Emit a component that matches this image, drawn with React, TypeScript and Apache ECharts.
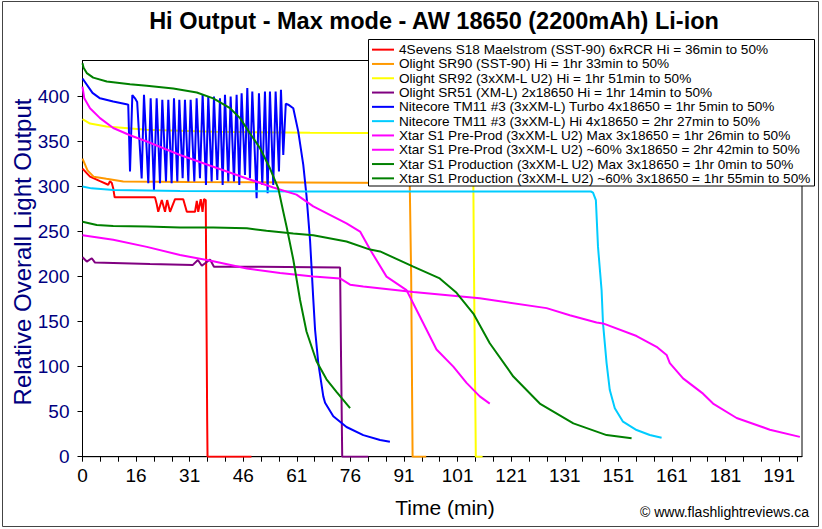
import React, { useEffect, useRef } from 'react';
import * as echarts from 'echarts';

// Tick labels printed under the x axis (one every 15 axis units)
const xTickLabels = ['0', '16', '31', '46', '61', '76', '91', '101', '121', '131', '151', '161', '181', '191'];

const seriesNames = [
  '4Sevens S18 Maelstrom (SST-90) 6xRCR Hi = 36min to 50%',
  'Olight SR90 (SST-90) Hi = 1hr 33min to 50%',
  'Olight SR92 (3xXM-L U2) Hi = 1hr 51min to 50%',
  'Olight SR51 (XM-L) 2x18650 Hi = 1hr 14min to 50%',
  'Nitecore TM11 #3 (3xXM-L) Turbo 4x18650 = 1hr 5min to 50%',
  'Nitecore TM11 #3 (3xXM-L) Hi 4x18650 = 2hr 27min to 50%',
  'Xtar S1 Pre-Prod (3xXM-L U2) Max 3x18650 = 1hr 26min to 50%',
  'Xtar S1 Pre-Prod (3xXM-L U2) ~60% 3x18650 = 2hr 42min to 50%',
  'Xtar S1 Production (3xXM-L U2) Max 3x18650 = 1hr 0min to 50%',
  'Xtar S1 Production (3xXM-L U2) ~60% 3x18650 = 1hr 55min to 50%',
];

const seriesColors = ['#FF0000', '#FF9900', '#FFFF00', '#800080', '#0000FF', '#00CCFF', '#FF00FF', '#FF00FF', '#008000', '#008000'];

const maelstrom = [[0, 320], [2.1, 311], [4.9, 306], [7.2, 302], [7.7, 306], [8.2, 304], [8.6, 298], [9.0, 288], [20.3, 288], [20.8, 280], [21.2, 272], [22.2, 285], [23.1, 272], [23.7, 285], [24.5, 272], [25.9, 286], [28.2, 286], [29.2, 272], [31.5, 272], [32.0, 284], [32.4, 272], [33.1, 286], [33.6, 272], [34.0, 286], [34.5, 285], [34.9, 40], [35.0, 0], [47.3, 0]];

const sr90 = [[0, 331], [1.4, 318], [3.1, 311], [6.7, 308.6], [11.4, 305.6], [30, 305], [60, 304.5], [91.6, 304], [92.0, 200], [92.4, 0], [96.2, 0]];

const sr92 = [[0, 375], [2.1, 370], [6.7, 366.7], [17.9, 363], [36.5, 361], [63.7, 359.7], [109.3, 359], [109.6, 200], [110.1, 0], [112, 0]];

const sr51 = [[0, 221.5], [1.2, 216.7], [2.6, 220.4], [3.5, 215.6], [18.9, 214], [30.9, 213], [32.3, 218.5], [33.4, 212], [35.7, 219], [36.8, 211], [49.7, 211], [72.1, 210], [72.4, 100], [72.7, 0], [80, 0]];

const tm11Turbo = [[0, 420], [2.8, 404], [4.9, 398], [8.6, 394.5], [12.3, 391.5], [12.8, 391], [13.3, 316.7], [13.95, 401.6], [14.7, 398], [15.3, 394], [16.56, 309], [17.21, 402], [18.42, 303.7], [19.08, 398], [20.01, 296.3], [20.76, 398], [21.69, 303.7], [22.34, 396.3], [23.37, 305.6], [24.02, 396.3], [24.95, 303.7], [25.61, 398], [26.54, 305.6], [27.1, 396.3], [28.03, 309.3], [28.68, 396.3], [29.62, 305.6], [30.27, 396.3], [31.3, 305.6], [31.95, 398], [32.88, 309.3], [33.63, 402.6], [34.56, 301.9], [35.21, 400], [36.15, 305.6], [36.8, 400], [37.73, 307.4], [38.48, 398], [39.23, 301.9], [39.88, 401.9], [40.81, 305.6], [41.47, 400], [42.4, 305.6], [43.14, 401.9], [43.89, 301.9], [44.54, 403.7], [45.48, 313], [46.13, 409.3], [46.87, 309.3], [47.53, 405.6], [48.74, 287], [49.39, 403.7], [50.33, 301.9], [51.07, 405.6], [51.82, 292.6], [52.47, 405.6], [53.4, 301.9], [54.06, 405.6], [54.99, 316.7], [55.55, 407.4], [56.2, 335], [56.9, 392], [57.6, 391], [59.0, 387], [60.4, 361], [61.8, 324], [62.7, 290], [63.7, 240], [64.6, 175], [65.1, 141], [66.0, 104], [67.4, 67], [67.9, 60], [70.2, 45], [73.9, 33], [78.6, 24], [83.3, 18.6], [86.05, 16.7]];

const tm11Hi = [[0, 300], [2.5, 298], [8.7, 296.3], [27.3, 295.2], [63.7, 294.4], [100, 294.5], [142.3, 294.5], [142.9, 293.3], [143.7, 285], [144.3, 233], [145.3, 185], [145.7, 148], [146.7, 104], [147.6, 74], [149.0, 53.7], [151.3, 38.9], [155.1, 29.6], [158.8, 24.1], [162.1, 21.1]];

const preProdMax = [[0, 411], [0.5, 398], [2.1, 387], [4.9, 376], [8.6, 365], [13.3, 357], [18, 350], [27.3, 335], [36.6, 322], [46, 309], [53.4, 299], [59.9, 291], [64.6, 278], [73.9, 259], [77.7, 250], [80.5, 230], [85.1, 200], [90.7, 185], [94.4, 156], [99.1, 119], [103.8, 100], [107.5, 82], [111.2, 67], [114, 59]];

const preProd60 = [[0, 246], [8.6, 241], [18, 233], [27.3, 224], [36.6, 217], [46, 209], [55.3, 204], [64.6, 200], [72.1, 198], [74.9, 191], [78.6, 189], [92.6, 183], [111.2, 176], [129.9, 165], [136.4, 157], [143.9, 149], [145.7, 148], [155.1, 134], [160.7, 122], [163.5, 113], [164.4, 104], [168.1, 87], [173.7, 70], [176.5, 59], [183.1, 43], [192.4, 30], [200.8, 22]];

const prodMax = [[0, 437], [0.3, 432], [1.2, 426], [3, 421], [6.8, 416.7], [13.3, 413.7], [18, 412], [25.4, 409], [32, 404.5], [36.6, 398], [41.3, 387], [44.1, 376], [46.9, 359], [49.7, 342.6], [52.5, 320], [54.8, 298], [56.2, 272], [57.1, 256], [59, 219], [60.9, 174], [62.7, 139], [65.5, 106], [68.3, 86], [71.1, 72], [74.9, 54]];

const prod60 = [[0, 261], [4, 257.4], [8.6, 256.3], [18, 255.6], [27.3, 254.5], [36.6, 254.5], [46, 253.7], [51.5, 251], [59, 248], [64.6, 246], [73.9, 239], [80.5, 230], [83.3, 228], [92.6, 211], [100, 198], [104.7, 182], [109.4, 159], [114, 126], [120.6, 89], [128, 59], [137.4, 37], [146.7, 24], [153.7, 20.4]];

const seriesData = [maelstrom, sr90, sr92, sr51, tm11Turbo, tm11Hi, preProdMax, preProd60, prodMax, prod60];

const FONT = "'Liberation Sans', Arial, sans-serif";

export default function App() {
  const ref = useRef<HTMLDivElement>(null);
  useEffect(() => {
    if (!ref.current) return;
    const chart = echarts.init(ref.current, undefined, { renderer: 'svg' });
    chart.setOption({
      animation: false,
      backgroundColor: '#fff',
      textStyle: { fontFamily: FONT },
      grid: { left: 82.5, right: 20, top: 60.5, bottom: 72.3, show: true, borderColor: '#000', borderWidth: 1, backgroundColor: '#fff' },
      xAxis: {
        type: 'value', min: 0, max: 201.4, interval: 5,
        axisLine: { show: true, lineStyle: { color: '#000', width: 1 } },
        axisTick: { show: true, length: 5, lineStyle: { color: '#000' } },
        splitLine: { show: false },
        axisLabel: {
          color: '#000', fontSize: 19, fontFamily: FONT, margin: 9, showMaxLabel: false,
          formatter: (v: number) => {
            const i = Math.round(v / 15);
            return Math.abs(v - i * 15) < 1e-6 && i < xTickLabels.length ? xTickLabels[i] : '';
          },
        },
      },
      yAxis: {
        type: 'value', min: 0, max: 440, interval: 50,
        axisLine: { show: true, lineStyle: { color: '#000', width: 1 } },
        axisTick: { show: true, length: 5, lineStyle: { color: '#000' } },
        splitLine: { show: false },
        axisLabel: {
          color: '#000080', fontSize: 19, fontFamily: FONT, margin: 13, showMaxLabel: false,
          formatter: (v: number) => (v % 50 === 0 ? String(v) : ''),
        },
      },
      legend: {
        data: seriesNames,
        orient: 'vertical', left: 368, top: 39, z: 20,
        padding: [3.5, 4, 3, 4], itemGap: 0, itemWidth: 22, itemHeight: 2, icon: 'rect',
        textStyle: { fontSize: 13.6, fontFamily: FONT, color: '#000', lineHeight: 14.3 },
      },
      graphic: [
        { type: 'rect', z: -10, shape: { x: 2.5, y: 1.5, width: 816, height: 525 }, style: { fill: 'none', stroke: '#444', lineWidth: 1 } },
        { type: 'rect', z: 10, shape: { x: 368.5, y: 39.5, width: 446, height: 146.5 }, style: { fill: '#fff', stroke: '#000', lineWidth: 1 } },
        { type: 'text', x: 434, y: 21, style: { text: 'Hi Output - Max mode - AW 18650 (2200mAh) Li-ion', fontSize: 23.5, fontWeight: 'bold', fontFamily: FONT, fill: '#000', align: 'center', verticalAlign: 'middle' } },
        { type: 'text', x: 22, y: 252, rotation: Math.PI / 2, style: { text: 'Relative Overall Light Output', fontSize: 24, fontFamily: FONT, fill: '#000080', align: 'center', verticalAlign: 'middle' } },
        { type: 'text', x: 445, y: 507, style: { text: 'Time (min)', fontSize: 21, fontFamily: FONT, fill: '#000', align: 'center', verticalAlign: 'middle' } },
        { type: 'text', x: 809, y: 512, style: { text: '© www.flashlightreviews.ca', fontSize: 14, fontFamily: FONT, fill: '#000', align: 'right', verticalAlign: 'middle' } },
      ],
      series: seriesNames.map((name, i) => ({
        name, type: 'line', data: seriesData[i], showSymbol: false, symbol: 'none',
        itemStyle: { color: seriesColors[i] },
        lineStyle: { color: seriesColors[i], width: 2 },
      })),
    });
    return () => chart.dispose();
  }, []);
  return <div ref={ref} style={{ position: 'absolute', left: 0, top: 0, width: 822, height: 529 }} />;
}
